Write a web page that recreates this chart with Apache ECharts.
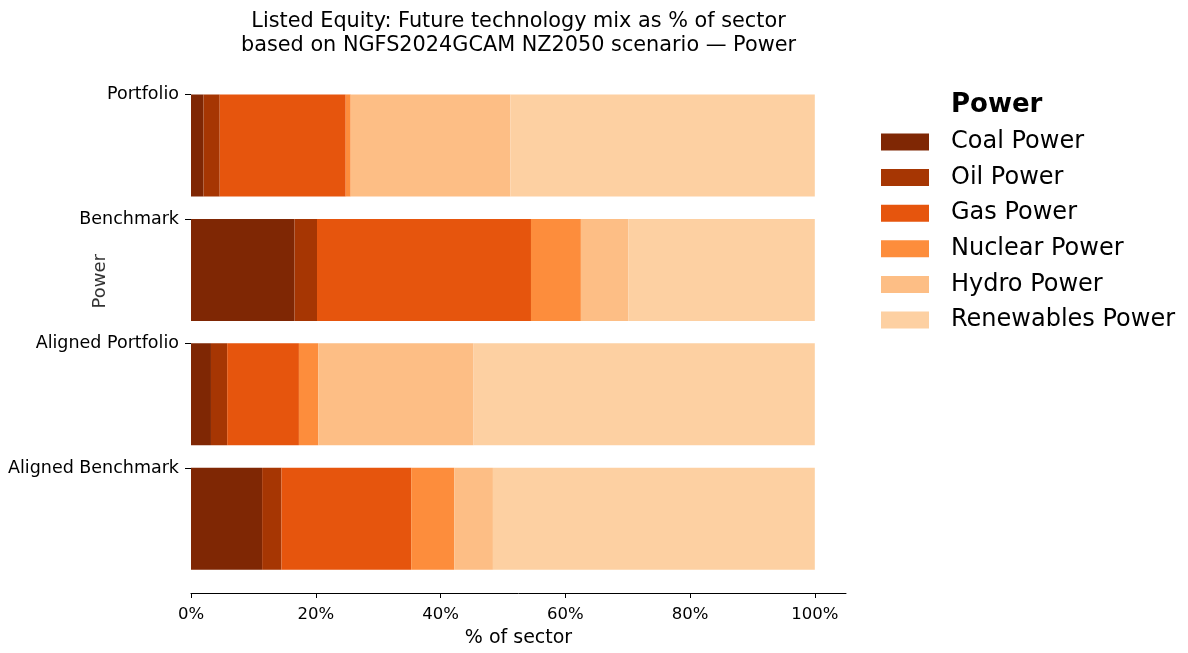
<!DOCTYPE html>
<html>
<head>
<meta charset="utf-8">
<script src="https://cdn.jsdelivr.net/npm/echarts@6/dist/echarts.min.js"></script>
<style>
  html, body { margin: 0; padding: 0; background: #fff; }
  #chart { width: 1188px; height: 653px; }
</style>
</head>
<body>
<div id="chart"></div>
<script>
// categories, top to bottom
var categories = ['Portfolio', 'Benchmark', 'Aligned Portfolio', 'Aligned Benchmark'];
var technologies = ['Coal Power', 'Oil Power', 'Gas Power', 'Nuclear Power', 'Hydro Power', 'Renewables Power'];
var techColors = ['#7f2704', '#a63603', '#e6550d', '#fd8d3c', '#fdbe85', '#fdd0a2'];

// % of sector, one array per technology (order follows categories)
var coalPower = [2.0, 16.6, 3.2, 11.4];
var oilPower = [2.6, 3.6, 2.6, 3.1];
var gasPower = [20.2, 34.3, 11.5, 20.8];
var nuclearPower = [0.8, 8.0, 3.1, 6.9];
var hydroPower = [25.6, 7.6, 24.9, 6.2];
var renewablesPower = [48.8, 29.9, 54.7, 51.6];

var xTickValues = [0, 20, 40, 60, 80, 100];

var seriesValues = [coalPower, oilPower, gasPower, nuclearPower, hydroPower, renewablesPower];

var chart = echarts.init(document.getElementById('chart'), null, {renderer: 'canvas'});

var font = 'DejaVu Sans';
var series = [];
for (var i = 0; i < technologies.length; i++) {
  series.push({
    name: technologies[i],
    type: 'bar',
    stack: 'mix',
    xAxisIndex: 0,
    yAxisIndex: 0,
    barWidth: '82%',
    data: seriesValues[i],
    itemStyle: {color: techColors[i]},
    emphasis: {disabled: true}
  });
}

var option = {
  backgroundColor: '#fff',
  animation: false,
  textStyle: {fontFamily: font, color: '#000'},
  title: [
    {
      text: 'Listed Equity: Future technology mix as % of sector\nbased on NGFS2024GCAM NZ2050 scenario \u2014 Power',
      left: 518.5,
      textAlign: 'center',
      top: 9,
      padding: 0,
      textStyle: {fontFamily: font, fontSize: 20.8, fontWeight: 'normal', color: '#000', lineHeight: 24.5}
    },
    {
      text: 'Power',
      left: 951,
      top: 92,
      padding: 0,
      textStyle: {fontFamily: font, fontSize: 26, fontWeight: 'bold', color: '#000'}
    }
  ],
  legend: {
    orient: 'vertical',
    left: 881,
    top: 130,
    padding: 0,
    itemWidth: 48,
    itemHeight: 17,
    itemGap: 11.6,
    icon: 'rect',
    selectedMode: false,
    data: technologies,
    textStyle: {fontFamily: font, fontSize: 24, lineHeight: 24, color: '#000', padding: [0, 0, 0, 17]}
  },
  grid: [
    {left: 191, width: 655, top: 83.25, height: 498},
    {left: 191, width: 655, top: 94.5, height: 373.5}
  ],
  xAxis: [
    {
      type: 'value',
      gridIndex: 0,
      min: 0,
      max: 105,
      offset: 12,
      axisLine: {show: true, lineStyle: {color: '#000', width: 1}},
      axisTick: {show: true, length: 5, customValues: xTickValues, lineStyle: {color: '#000'}},
      axisLabel: {
        customValues: xTickValues,
        formatter: '{value}%',
        fontFamily: font, fontSize: 16.5, color: '#000', margin: 13
      },
      splitLine: {show: false},
      name: '% of sector',
      nameLocation: 'middle',
      nameGap: 36,
      nameMoveOverlap: false,
      nameTextStyle: {fontFamily: font, fontSize: 19, color: '#000'}
    },
    {
      type: 'value',
      gridIndex: 1,
      show: false
    }
  ],
  yAxis: [
    {
      type: 'category',
      gridIndex: 0,
      inverse: true,
      data: categories,
      axisLine: {show: false},
      axisTick: {show: false},
      axisLabel: {show: false}
    },
    {
      type: 'category',
      gridIndex: 1,
      inverse: true,
      boundaryGap: false,
      data: categories,
      axisLine: {show: false},
      axisTick: {show: true, length: 6, lineStyle: {color: '#000'}},
      axisLabel: {fontFamily: font, fontSize: 17.5, color: '#000', margin: 12},
      name: 'Power',
      nameLocation: 'middle',
      nameGap: 82,
      nameRotate: 90,
      nameMoveOverlap: false,
      nameTextStyle: {fontFamily: font, fontSize: 18, color: '#333'}
    }
  ],
  series: series
};

chart.setOption(option);
</script>
</body>
</html>
